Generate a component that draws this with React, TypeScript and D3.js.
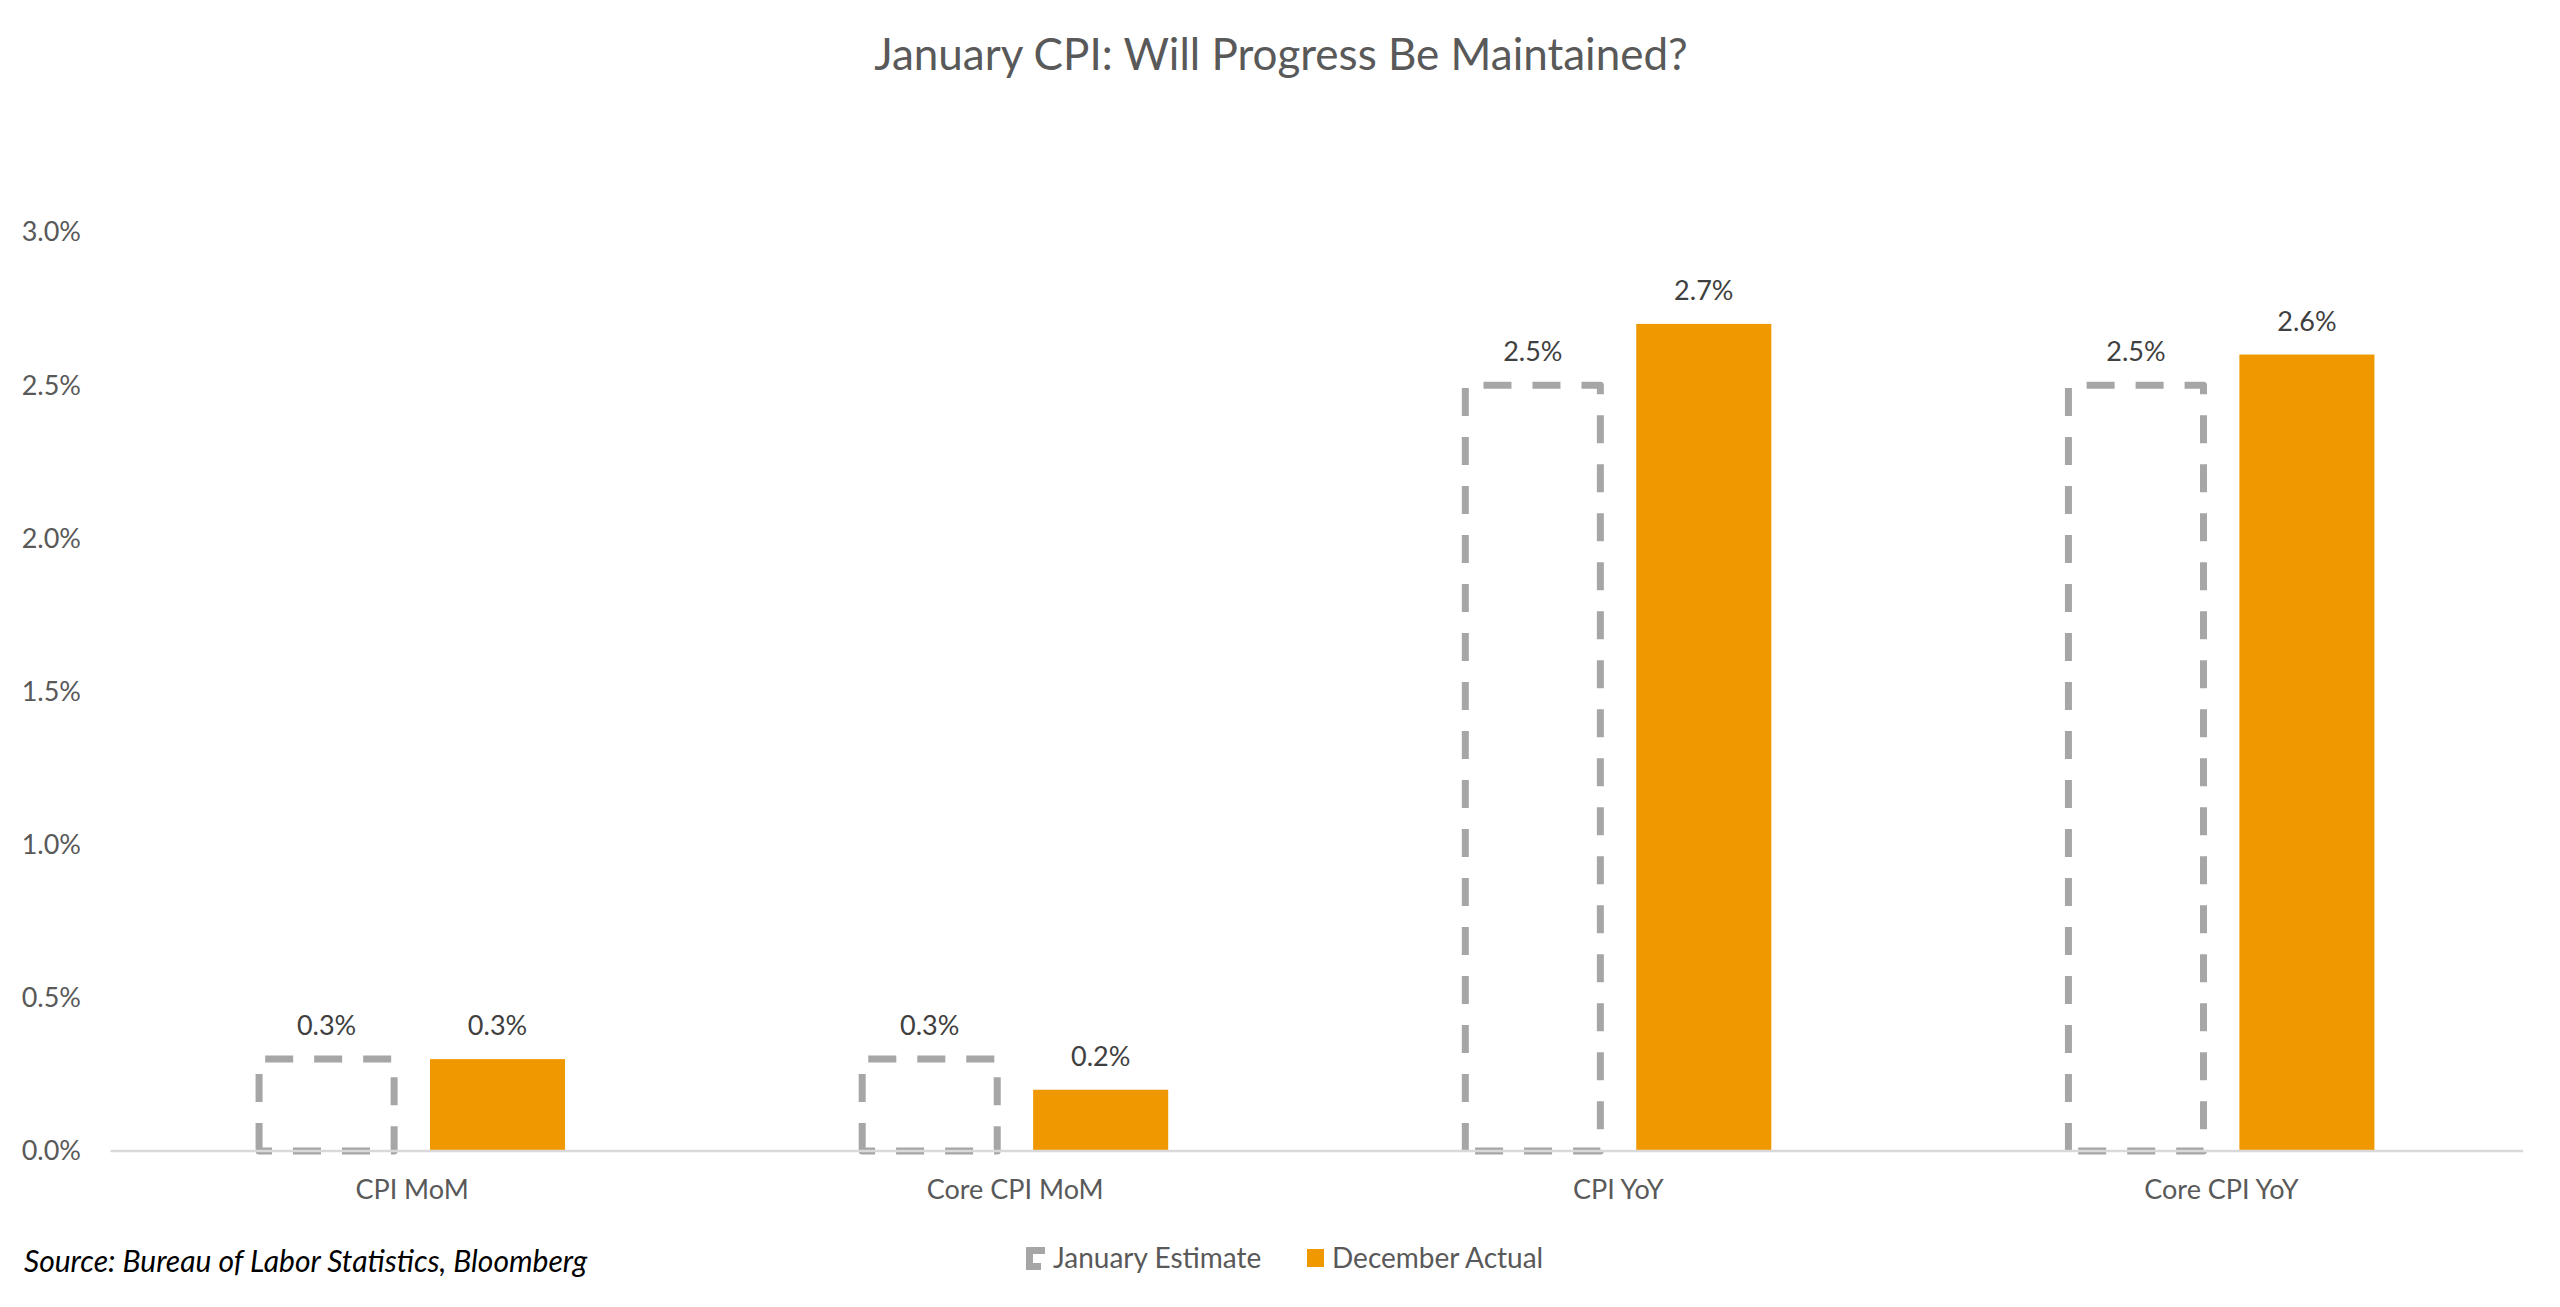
import React from "react";
import * as d3 from "d3";

const categories = ["CPI MoM", "Core CPI MoM", "CPI YoY", "Core CPI YoY"];
const seriesNames = ["January Estimate", "December Actual"];
const januaryEstimate = [0.3, 0.3, 2.5, 2.5];
const decemberActual = [0.3, 0.2, 2.7, 2.6];
const yTicks = [0, 0.5, 1.0, 1.5, 2.0, 2.5, 3.0];

const W = 2560;
const H = 1307;
const FONT = "Lato, 'Noto Sans', sans-serif";
const TEXT = "#595959";
const ORANGE = "#F09800";
const GREY = "#A6A6A6";

export default function App() {
  const x = d3.scaleBand<string>().domain(categories).range([110.5, 2523]).paddingInner(0).paddingOuter(0);
  const groupW = 306;
  const x1 = d3.scaleBand<string>().domain(seriesNames).range([0, groupW]).paddingInner(0.21).paddingOuter(0);
  const y = d3.scaleLinear().domain([0, 3]).range([1151, 232]);
  const fmt = d3.format(".1f");

  const barX = (cat: string, s: string) => (x(cat) as number) + x.bandwidth() / 2 - groupW / 2 + (x1(s) as number);
  const bw = x1.bandwidth();

  const dashedPath = (x0: number, x1v: number, yTop: number, yBot: number) => {
    const p = d3.path();
    p.moveTo(x0, yBot);
    p.lineTo(x0, yTop);
    p.lineTo(x1v, yTop);
    p.lineTo(x1v, yBot);
    p.closePath();
    return p.toString();
  };

  return (
    <div style={{ position: "absolute", left: 0, top: 0 }}>
      <svg width={W} height={H} style={{ display: "block", background: "#fff" }}>
        <rect x={0} y={0} width={W} height={H} fill="#fff" />
        <text x={1281} y={70} textAnchor="middle" fontFamily={FONT} fontSize={44} fill={TEXT}>
          January CPI: Will Progress Be Maintained?
        </text>

        {yTicks.map((t) => (
          <text key={t} x={81} y={y(t)} dy="0.35em" textAnchor="end" fontFamily={FONT} fontSize={27} fill={TEXT}>
            {fmt(t)}%
          </text>
        ))}

        {categories.map((c, i) => {
          const ex = barX(c, seriesNames[0]);
          const ax = barX(c, seriesNames[1]);
          return (
            <g key={c}>
              <path
                d={dashedPath(ex, ex + bw, y(januaryEstimate[i]), y(0))}
                fill="none"
                stroke={GREY}
                strokeWidth={7}
                strokeDasharray="28 21"
                strokeLinejoin="round"
              />
              <rect x={ax} y={y(decemberActual[i])} width={bw} height={y(0) - y(decemberActual[i])} fill={ORANGE} />
              <text x={ex + bw / 2} y={y(januaryEstimate[i]) - 24} textAnchor="middle" fontFamily={FONT} fontSize={27} fill="#404040">
                {fmt(januaryEstimate[i])}%
              </text>
              <text x={ax + bw / 2} y={y(decemberActual[i]) - 24} textAnchor="middle" fontFamily={FONT} fontSize={27} fill="#404040">
                {fmt(decemberActual[i])}%
              </text>
              <text x={(x(c) as number) + x.bandwidth() / 2} y={1199} textAnchor="middle" fontFamily={FONT} fontSize={27} fill={TEXT}>
                {c}
              </text>
            </g>
          );
        })}

        <line x1={110.5} x2={2523} y1={y(0)} y2={y(0)} stroke="#D9D9D9" strokeWidth={2.5} />

        <text x={24} y={1272} fontFamily={FONT} fontStyle="italic" fontSize={30} fill="#000">
          Source: Bureau of Labor Statistics, Bloomberg
        </text>

        <g>
          <path d="M1045,1250.5 L1029.5,1250.5 L1029.5,1266.5 L1041,1266.5" fill="none" stroke={GREY} strokeWidth={7} />
          <text x={1053} y={1268} fontFamily={FONT} fontSize={28} fill={TEXT}>
            {seriesNames[0]}
          </text>
          <rect x={1307} y={1249} width={17} height={18} fill={ORANGE} />
          <text x={1332} y={1268} fontFamily={FONT} fontSize={28} fill={TEXT}>
            {seriesNames[1]}
          </text>
        </g>
      </svg>
    </div>
  );
}
